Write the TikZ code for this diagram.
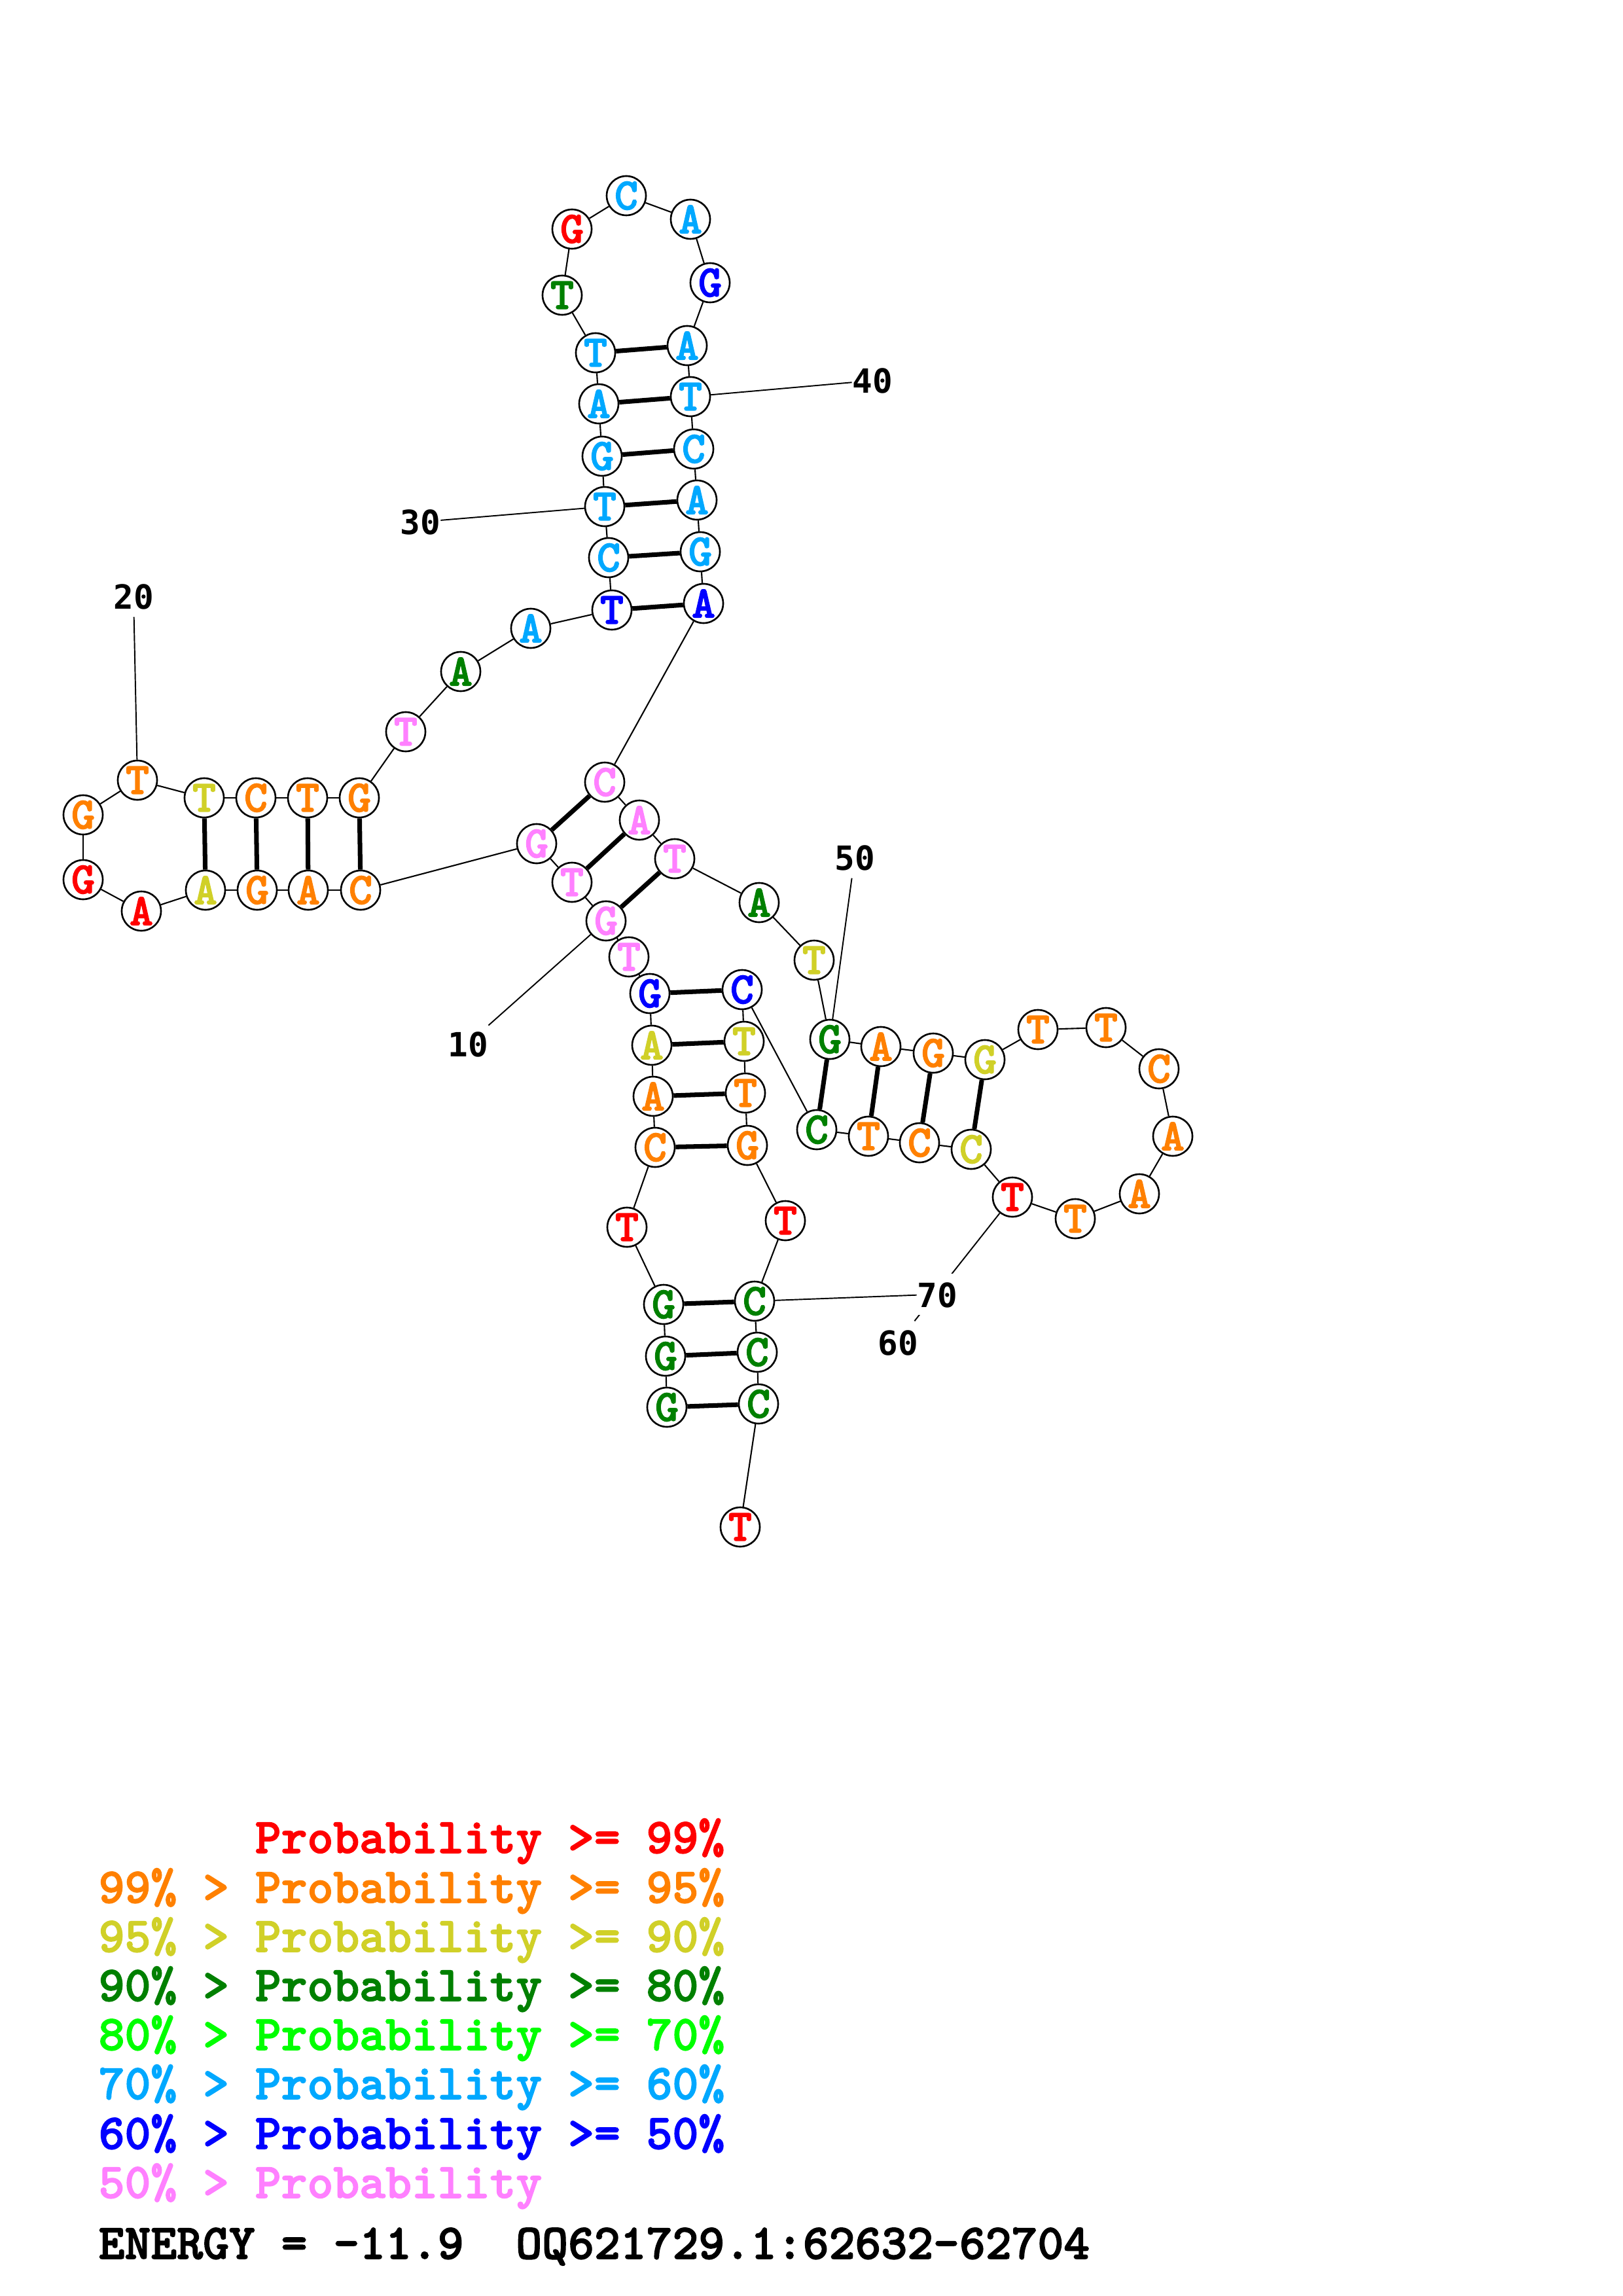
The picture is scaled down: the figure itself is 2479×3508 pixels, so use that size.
\documentclass[tikz,border=0pt]{standalone}
\usepackage{fontspec}
\newfontfamily\numfont{DejaVu Sans Mono}
\newfontfamily\cfont{lmmonolt10-bold.otf}[FakeBold=2]
\definecolor{pa}{RGB}{255,0,0}
\definecolor{pb}{RGB}{255,128,0}
\definecolor{pc}{RGB}{208,208,40}
\definecolor{pd}{RGB}{0,128,0}
\definecolor{pe}{RGB}{0,255,0}
\definecolor{pf}{RGB}{0,168,255}
\definecolor{pg}{RGB}{0,0,255}
\definecolor{ph}{RGB}{255,128,255}
\begin{document}
\begin{tikzpicture}[x=0.1mm,y=-0.1mm,
  nt/.style={circle,draw,line width=0.75pt,fill=white,minimum size=6mm,inner sep=0pt,
    font=\cfont\fontsize{19.5}{21}\selectfont},
  bb/.style={line width=0.6pt},
  bp/.style={line width=2pt},
  numlab/.style={anchor=base,inner sep=0pt,text height=5.1mm,text depth=1.2mm,
    font=\numfont\bfseries\fontsize{14.5}{17}\selectfont},
  tick/.style={line width=0.55pt},
  legend/.style={anchor=base west,inner sep=0pt,
    font=\cfont\fontsize{21.6}{24}\selectfont}]
\useasboundingbox (0,0) rectangle (2479,3508);
\def\nts{
1/1019/2150/G/pd, 2/1017/2072/G/pd, 3/1014/1993/G/pd, 4/958/1875/T/pa,
5/1001/1753/C/pb, 6/998/1675/A/pb, 7/996/1597/A/pc, 8/993/1518/G/pg,
9/961/1462/T/ph, 10/926/1407/G/ph, 11/874/1348/T/ph, 12/820/1289/G/ph,
13/551/1360/C/pb, 14/471/1360/A/pb, 15/393/1360/G/pb, 16/314/1360/A/pc,
17/216/1392/A/pa, 18/127/1344/G/pa, 19/127/1245/G/pb, 20/210/1192/T/pb,
21/312/1219/T/pc, 22/391/1219/C/pb, 23/470/1219/T/pb, 24/549/1219/G/pb,
25/620/1118/T/ph, 26/704/1026/A/pd, 27/811/960/A/pf, 28/935/932/T/pg,
29/930/852/C/pf, 30/924/774/T/pf, 31/920/697/G/pf, 32/915/617/A/pf,
33/910/539/T/pf, 34/859/451/T/pd, 35/874/350/G/pa, 36/957/299/C/pf,
37/1055/335/A/pf, 38/1085/432/G/pg, 39/1050/528/A/pf, 40/1055/606/T/pf,
41/1060/686/C/pf, 42/1065/764/A/pf, 43/1070/843/G/pf, 44/1075/922/A/pg,
45/924/1195/C/ph, 46/977/1253/A/ph, 47/1031/1312/T/ph, 48/1160/1379/A/pd,
49/1244/1467/T/pc, 50/1268/1588/G/pd, 51/1346/1599/A/pb, 52/1426/1609/G/pb,
53/1505/1619/G/pc, 54/1586/1573/T/pb, 55/1690/1570/T/pb, 56/1771/1633/C/pb,
57/1792/1736/A/pb, 58/1741/1824/A/pb, 59/1643/1862/T/pb, 60/1547/1829/T/pa,
61/1484/1756/C/pc, 62/1405/1746/C/pb, 63/1327/1736/T/pb, 64/1248/1726/C/pd,
65/1134/1512/C/pg, 66/1137/1591/T/pc, 67/1139/1670/T/pb, 68/1142/1750/G/pb,
69/1200/1865/T/pa, 70/1153/1988/C/pd, 71/1157/2066/C/pd, 72/1159/2145/C/pd,
73/1131/2333/T/pa}
\foreach \i/\x/\y/\b/\c in \nts
  \node[nt,text=\c] (n\i) at (\x,\y) {\b};
\foreach \i [evaluate=\i as \j using int(\i+1)] in {1,...,72}
  \draw[bb] (n\i) -- (n\j);
\foreach \a/\b in {1/72,2/71,3/70,5/68,6/67,7/66,8/65,10/47,11/46,12/45,
  13/24,14/23,15/22,16/21,28/44,29/43,30/42,31/41,32/40,33/39,
  50/64,51/63,52/62,53/61}
  \draw[bp] (n\a) -- (n\b);
\foreach \k/\x/\y in {10/715/1614,20/204/930,30/642/817,40/1333/601,50/1306/1329,60/1372/2070} {
  \node[numlab] (lab\k) at (\x,\y) {\k};
  \draw[tick] (lab\k) -- (n\k);
}
\node[numlab,fill=white] (lab70) at (1432,1997) {70};
\draw[tick] (lab70) -- (n70);
\foreach \y/\c/\t [count=\r] in {
  2831/pa/\phantom{99\% > }Probability >= 99\%,
  2907/pb/99\% > Probability >= 95\%,
  2982/pc/95\% > Probability >= 90\%,
  3057/pd/90\% > Probability >= 80\%,
  3132/pe/80\% > Probability >= 70\%,
  3207/pf/70\% > Probability >= 60\%,
  3283/pg/60\% > Probability >= 50\%,
  3358/ph/50\% > Probability}
  \node[legend,text=\c] (leg\r) at (150,\y) {\t};
\node[legend] (energy) at (150,3451) {ENERGY = -11.9\ \ OQ621729.1:62632-62704};
\end{tikzpicture}
\end{document}
